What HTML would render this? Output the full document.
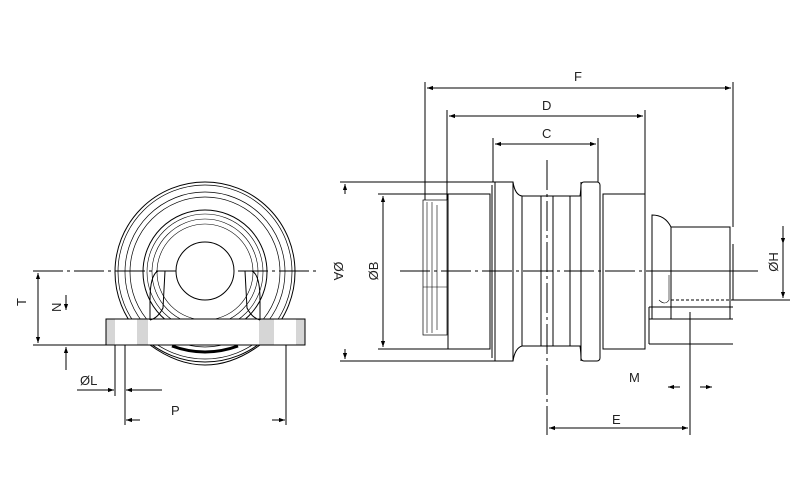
<!DOCTYPE html>
<html><head><meta charset="utf-8"><style>
html,body{margin:0;padding:0;background:#fff}
svg{display:block}
text{font-family:"Liberation Sans",sans-serif;font-size:13px;fill:#222}
</style></head><body>
<svg width="800" height="500" viewBox="0 0 800 500" xmlns="http://www.w3.org/2000/svg">
<defs>
<marker id="a" viewBox="0 0 10 10" refX="10" refY="5" markerWidth="8" markerHeight="6" orient="auto-start-reverse"><path d="M0,1.5 L10,5 L0,8.5z" fill="#000"/></marker>
</defs>
<g fill="none" stroke="#000" stroke-width="1">
<line x1="33" y1="271" x2="318" y2="271" stroke-dasharray="30,4,3,4"/>
<circle cx="205" cy="272" r="90"/>
<circle cx="205" cy="272" r="87" stroke-width="0.7"/>
<circle cx="205" cy="272" r="80" stroke-width="0.7"/>
<circle cx="205" cy="272" r="75" stroke-width="0.7"/>
<circle cx="205" cy="272" r="62"/>
<circle cx="205" cy="272" r="58" stroke-width="0.6"/>
<circle cx="205" cy="272" r="53" stroke-width="0.6"/>
<circle cx="205" cy="272" r="48" stroke-width="0.6"/>
<circle cx="205" cy="271" r="29" fill="#fff"/>
<rect x="106" y="319" width="199" height="26" fill="#fff"/>
<rect x="106" y="319" width="9" height="26" fill="#d6d6d6" stroke="none"/>
<rect x="137" y="319" width="11" height="26" fill="#d6d6d6" stroke="none"/>
<rect x="259" y="319" width="15" height="26" fill="#d6d6d6" stroke="none"/>
<rect x="296" y="319" width="9" height="26" fill="#d6d6d6" stroke="none"/>
<rect x="106" y="319" width="199" height="26"/>
<path d="M150,320 L150,300 Q150,275 158,271 L165,271 L163,308 Q158,318 150,320"/>
<path d="M260,320 L260,300 Q260,275 252,271 L245,271 L247,308 Q252,318 260,320"/>
<path d="M150,345 Q205,385 260,345"/>
<path d="M172,346 Q205,358 238,346" stroke-width="3"/>
<line x1="33" y1="345" x2="305" y2="345"/>
<line x1="38" y1="273" x2="38" y2="343" marker-start="url(#a)" marker-end="url(#a)"/>
<line x1="66" y1="295" x2="66" y2="310" marker-end="url(#a)"/>
<line x1="66" y1="370" x2="66" y2="347" marker-end="url(#a)"/>
<line x1="115" y1="345" x2="115" y2="396"/>
<line x1="125" y1="345" x2="125" y2="425"/>
<line x1="286" y1="345" x2="286" y2="425"/>
<line x1="77" y1="390" x2="114" y2="390" marker-end="url(#a)"/>
<line x1="162" y1="390" x2="126" y2="390" marker-end="url(#a)"/>
<line x1="140" y1="420" x2="126" y2="420" marker-end="url(#a)"/>
<line x1="272" y1="420" x2="285" y2="420" marker-end="url(#a)"/>

<line x1="400" y1="271" x2="760" y2="271" stroke-dasharray="30,4,3,4"/>
<line x1="340" y1="182" x2="495" y2="182"/>
<line x1="340" y1="361" x2="495" y2="361"/>
<line x1="345" y1="184" x2="345" y2="194" marker-start="url(#a)"/>
<line x1="345" y1="359" x2="345" y2="349" marker-start="url(#a)"/>
<line x1="378" y1="194" x2="448" y2="194"/>
<line x1="378" y1="349" x2="448" y2="349"/>
<line x1="383" y1="196" x2="383" y2="347" marker-start="url(#a)" marker-end="url(#a)"/>
<rect x="448" y="194" width="42" height="155"/>
<line x1="490" y1="194" x2="490" y2="349"/>
<rect x="423" y="200" width="24" height="135" stroke-width="0.7"/>
<line x1="427" y1="202" x2="427" y2="333" stroke-width="0.6"/>
<line x1="432" y1="202" x2="432" y2="333" stroke-width="0.6"/>
<line x1="437" y1="205" x2="437" y2="330" stroke-width="0.6"/>
<line x1="423" y1="287" x2="447" y2="287" stroke-width="0.6"/>
<rect x="495" y="182" width="18" height="179"/>
<line x1="492" y1="185" x2="492" y2="358"/>
<path d="M513,182 Q515,195 522,196 L580,196 Q581,190 581,182"/>
<path d="M513,361 Q515,348 522,346 L580,346 Q581,352 581,361"/>
<line x1="522" y1="196" x2="522" y2="346"/>
<line x1="541" y1="196" x2="541" y2="346"/>
<line x1="553" y1="196" x2="553" y2="346"/>
<line x1="570" y1="196" x2="570" y2="346"/>
<rect x="581" y="182" width="19" height="179" rx="3"/>
<rect x="603" y="194" width="42" height="155"/>
<path d="M652,215 Q665,215 671,227 L671,319 L652,319 Z"/>
<path d="M659,300 Q665,306 669,300 L669,275" stroke-width="0.6"/>
<rect x="671" y="227" width="59" height="92"/>
<line x1="733" y1="244" x2="733" y2="300"/>
<line x1="649" y1="307" x2="733" y2="307"/>
<line x1="649" y1="319" x2="733" y2="319"/>
<line x1="649" y1="344" x2="733" y2="344"/>
<line x1="649" y1="307" x2="649" y2="344"/>
<line x1="671" y1="300" x2="733" y2="300" stroke-dasharray="3,2"/>
<line x1="733" y1="300" x2="790" y2="300"/>
<line x1="671" y1="271" x2="733" y2="271"/>
<line x1="783" y1="226" x2="783" y2="244" marker-end="url(#a)"/>
<line x1="783" y1="244" x2="783" y2="298" marker-end="url(#a)"/>
<line x1="547" y1="160" x2="547" y2="435" stroke-dasharray="30,4,3,4"/>
<line x1="690" y1="312" x2="690" y2="435"/>
<line x1="680" y1="387" x2="668" y2="387" marker-end="url(#a)"/>
<line x1="700" y1="387" x2="712" y2="387" marker-end="url(#a)"/>
<line x1="549" y1="428" x2="688" y2="428" marker-start="url(#a)" marker-end="url(#a)"/>
<line x1="425" y1="82" x2="425" y2="200"/>
<line x1="447" y1="110" x2="447" y2="200"/>
<line x1="493" y1="138" x2="493" y2="182"/>
<line x1="598" y1="138" x2="598" y2="182"/>
<line x1="645" y1="110" x2="645" y2="194"/>
<line x1="733" y1="82" x2="733" y2="227"/>
<line x1="427" y1="88" x2="731" y2="88" marker-start="url(#a)" marker-end="url(#a)"/>
<line x1="449" y1="116" x2="643" y2="116" marker-start="url(#a)" marker-end="url(#a)"/>
<line x1="495" y1="144" x2="596" y2="144" marker-start="url(#a)" marker-end="url(#a)"/>
</g>
<text x="574" y="81">F</text>
<text x="542" y="110">D</text>
<text x="542" y="138">C</text>
<text x="629" y="382">M</text>
<text x="612" y="424">E</text>
<text x="171" y="415">P</text>
<text x="80" y="385">ØL</text>
<text transform="translate(26,306) rotate(-90)">T</text>
<text transform="translate(61,312) rotate(-90)">N</text>
<text transform="translate(334,271) rotate(90)" text-anchor="middle">ØA</text>
<text transform="translate(378,271) rotate(-90)" text-anchor="middle">ØB</text>
<text transform="translate(778,262) rotate(-90)" text-anchor="middle">ØH</text>
</svg>
</body></html>
